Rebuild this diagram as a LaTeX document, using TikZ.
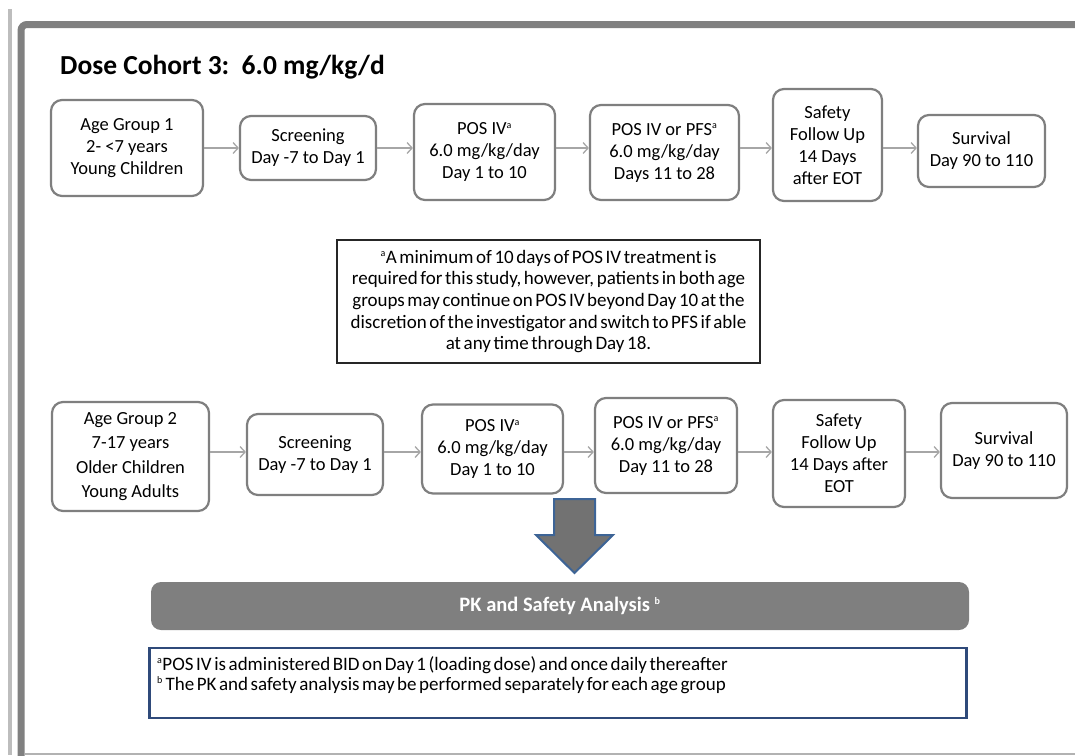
\documentclass[tikz,border=0pt]{standalone}
\usepackage{fontspec}
\setmainfont{Carlito}
\newfontfamily\notefont[WordSpace=0.6]{Carlito}
\usetikzlibrary{arrows.meta}
\definecolor{boxgray}{HTML}{7F7F7F}
\definecolor{conngray}{HTML}{A6A6A6}
\definecolor{navy}{HTML}{2F4A7A}
\definecolor{arrblue}{HTML}{3D6496}
\definecolor{framegray}{HTML}{808080}
\definecolor{thingray}{HTML}{BDBDBD}
\newcommand\supa{\textsuperscript{\fontsize{10}{10}\selectfont a}}
\newcommand\supb{\textsuperscript{\fontsize{10}{10}\selectfont b}}
\tikzset{
  stepbox/.style={draw=boxgray, line width=2.2pt, rounded corners=11pt, fill=white,
    align=center, inner sep=2pt, font=\fontsize{18.5}{22}\selectfont},
  conn/.style={draw=conngray, line width=1.3pt, -{Straight Barb[length=5pt,width=11pt]}},
}
\begin{document}
\begin{tikzpicture}[x=1pt,y=-1pt]
\useasboundingbox (0,0) rectangle (1075,755);
% frame
\draw[line width=4pt, thingray] (10,9) -- (10,755);
\draw[line width=7pt, framegray, rounded corners=6pt] (21,760) -- (21,24.5) -- (1085,24.5);
\draw[line width=2pt, color=black!30] (25,753.5) -- (1075,753.5);
% title
\node[anchor=base west, inner sep=0pt, font=\fontsize{27.5}{30}\selectfont\bfseries] (title) at (60,74) {Dose Cohort 3:\ \ 6.0 mg/kg/d};
% row 1
\node[stepbox, minimum width=152pt, minimum height=96pt] (a1) at (127,148) {Age Group 1\\2- <7 years\\Young Children};
\node[stepbox, minimum width=136pt, minimum height=64pt] (s1) at (308,148) {Screening\\Day -7 to Day 1};
\node[stepbox, minimum width=141pt, minimum height=96pt] (p1) at (484.5,152) {POS IV\supa\\6.0 mg/kg/day\\Day 1 to 10};
\node[stepbox, minimum width=149pt, minimum height=95pt] (f1) at (664.5,152.5) {POS IV or PFS\supa\\6.0 mg/kg/day\\Days 11 to 28};
\node[stepbox, minimum width=109pt, minimum height=112pt] (y1) at (827.5,145) {Safety\\Follow Up\\14 Days\\after EOT};
\node[stepbox, minimum width=127pt, minimum height=72pt] (v1) at (981.5,151) {Survival\\Day 90 to 110};
\coordinate (r1) at (0,148);
\draw[conn] (a1.east |- r1) -- (s1.west |- r1);
\draw[conn] (s1.east |- r1) -- (p1.west |- r1);
\draw[conn] (p1.east |- r1) -- (f1.west |- r1);
\draw[conn] (f1.east |- r1) -- (y1.west |- r1);
\draw[conn] (y1.east |- r1) -- (v1.west |- r1);
% note box
\node[draw=black!85, line width=2pt, minimum width=423pt, minimum height=123pt, align=center,
  font=\notefont\fontsize{19}{21.7}\selectfont] (note) at (548.5,301.5)
  {\supa A minimum of 10 days of POS IV treatment is\\
   required for this study, however, patients in both age\\
   groups may continue on POS IV beyond Day 10 at the\\
   discretion of the investigator and switch to PFS if able\\
   at any time through Day 18.};
% row 2
\node[stepbox, minimum width=157pt, minimum height=109pt, font=\fontsize{18.5}{24.5}\selectfont] (a2) at (130.5,456.5) {Age Group 2\\7-17 years\\Older Children\\Young Adults};
\node[stepbox, minimum width=136pt, minimum height=81pt] (s2) at (315,454.5) {Screening\\Day -7 to Day 1};
\node[stepbox, minimum width=141pt, minimum height=89pt] (p2) at (492.5,449) {POS IV\supa\\6.0 mg/kg/day\\Day 1 to 10};
\node[stepbox, minimum width=142pt, minimum height=95pt] (f2) at (666,445.5) {POS IV or PFS\supa\\6.0 mg/kg/day\\Day 11 to 28};
\node[stepbox, minimum width=132pt, minimum height=107pt] (y2) at (839,453.5) {Safety\\Follow Up\\14 Days after\\EOT};
\node[stepbox, minimum width=126pt, minimum height=95pt] (v2) at (1004,450.5) {Survival\\Day 90 to 110};
\coordinate (r2) at (0,452);
\draw[conn] (a2.east |- r2) -- (s2.west |- r2);
\draw[conn] (s2.east |- r2) -- (p2.west |- r2);
\draw[conn] (p2.east |- r2) -- (f2.west |- r2);
\draw[conn] (f2.east |- r2) -- (y2.west |- r2);
\draw[conn] (y2.east |- r2) -- (v2.west |- r2);
% block arrow
\draw[fill=boxgray!90!black, draw=arrblue, line width=2pt, line join=miter]
  (554,499) -- (595,499) -- (595,535) -- (613,535) -- (574.5,573) -- (536,535) -- (554,535) -- cycle;
% PK box
\node[fill=boxgray, rounded corners=10pt, minimum width=818pt, minimum height=48pt,
  text=white, font=\fontsize{20.5}{24}\selectfont\bfseries] (pk) at (560,606) {PK and Safety Analysis \supb};
% footnote box
\node[draw=navy, line width=2.5pt, minimum width=817pt, minimum height=70pt] (fn) at (558,683) {};
\node[anchor=north west, align=left, inner sep=0pt, font=\notefont\fontsize{19}{20}\selectfont] (fntext) at (157,656)
  {\supa POS IV is administered BID on Day 1 (loading dose) and once daily thereafter\\
   \supb\ The PK and safety analysis may be performed separately for each age group};
\end{tikzpicture}
\end{document}
